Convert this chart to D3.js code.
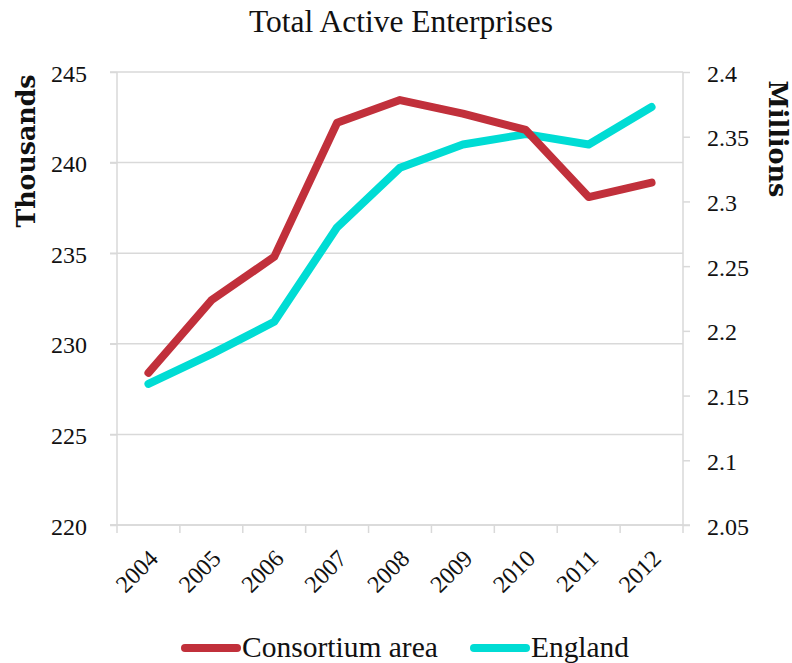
<!DOCTYPE html>
<html>
<head>
<meta charset="utf-8">
<script src="https://cdn.jsdelivr.net/npm/d3@7"></script>
<style>
  body { margin: 0; background: #fff; }
  svg { display: block; font-family: "Liberation Serif", "DejaVu Serif", serif; }
</style>
</head>
<body>
<svg id="chart" width="792" height="663"></svg>
<script>
// Years on the category axis
const years = ["2004", "2005", "2006", "2007", "2008", "2009", "2010", "2011", "2012"];
// Consortium area, active enterprises (thousands, left axis)
const consortium = [228.4, 232.4, 234.8, 242.2, 243.45, 242.7, 241.8, 238.1, 238.9];
// England, active enterprises (millions, right axis)
const england = [2.159, 2.182, 2.207, 2.280, 2.326, 2.344, 2.352, 2.344, 2.373];
// Axis tick values
const leftTicks = [220, 225, 230, 235, 240, 245];
const rightTicks = [2.05, 2.1, 2.15, 2.2, 2.25, 2.3, 2.35, 2.4];

const svg = d3.select("#chart");
const plot = { left: 117, right: 683, top: 72, bottom: 525 };
const gridColor = "#d9d9d9";
const red = "#c1303b";
const cyan = "#00dcd4";
const ink = "#111";
const font = "Liberation Serif, serif";
const boldFont = "DejaVu Serif, serif";

// Scale a text's font size so that it spans the given width
function fitWidth(sel, width) {
  const node = sel.node();
  const base = parseFloat(sel.attr("font-size"));
  const len = node.getComputedTextLength();
  const size = base * width / len;
  sel.attr("font-size", size);
  return size;
}

const x = d3.scaleBand().domain(years).range([plot.left, plot.right]);
const yL = d3.scaleLinear().domain([220, 245]).range([plot.bottom, plot.top]);
const yR = d3.scaleLinear().domain([2.05, 2.4]).range([plot.bottom, plot.top]);

// Title
const title = svg.append("text")
  .attr("x", 401).attr("y", 32)
  .attr("text-anchor", "middle")
  .attr("font-size", 28)
  .attr("fill", ink)
  .text("Total Active Enterprises");
fitWidth(title, 304);

// Horizontal gridlines from left-axis ticks
svg.append("g").selectAll("line").data(leftTicks).join("line")
  .attr("x1", plot.left - 7).attr("x2", plot.right)
  .attr("y1", d => yL(d)).attr("y2", d => yL(d))
  .attr("stroke", gridColor).attr("stroke-width", 1.5);

// Tick label size, sized from a sample label
const probe = svg.append("text").attr("font-size", 22).text("245");
const tickSize = fitWidth(probe, 36);
probe.remove();

// Left axis
const gL = svg.append("g").attr("transform", `translate(${plot.left},0)`)
  .call(d3.axisLeft(yL).tickValues(leftTicks).tickSize(7).tickPadding(23).tickFormat(d3.format("d")));
// Right axis
const gR = svg.append("g").attr("transform", `translate(${plot.right},0)`)
  .call(d3.axisRight(yR).tickValues(rightTicks).tickSize(7).tickPadding(17).tickFormat(d => String(+d.toFixed(2))));
// Bottom axis with ticks at band boundaries
const gB = svg.append("g").attr("transform", `translate(0,${plot.bottom})`)
  .call(d3.axisBottom(x).tickSize(0).tickPadding(0));

[gL, gR, gB].forEach(g => {
  g.select(".domain").attr("stroke", gridColor).attr("stroke-width", 1.5);
  g.selectAll(".tick line").attr("stroke", gridColor).attr("stroke-width", 1.5);
  g.selectAll("text").attr("font-family", font).attr("font-size", tickSize).attr("fill", ink);
});
gL.select(".domain").attr("d", `M0,${plot.top}V${plot.bottom}`);
gR.select(".domain").attr("d", `M0,${plot.top}V${plot.bottom}`);
gB.select(".domain").attr("d", `M${plot.left - 7},0H${plot.right + 7}`);
gR.selectAll("text").attr("text-anchor", "start");
gL.selectAll(".tick text").attr("dy", "0.38em");
gR.selectAll(".tick text").attr("dy", "0.38em");

// Category boundary ticks
const bounds = years.map(y => x(y)).concat([plot.right]);
gB.append("g").selectAll("line").data(bounds).join("line")
  .attr("x1", d => d).attr("x2", d => d).attr("y1", 0).attr("y2", 8)
  .attr("stroke", gridColor).attr("stroke-width", 1.5);

// Rotated year labels
gB.selectAll(".tick text")
  .attr("text-anchor", "end")
  .attr("dy", 0)
  .attr("transform", "translate(11,35) rotate(-45)");

// Axis titles
const tL = svg.append("text")
  .attr("transform", "translate(35,151) rotate(-90)")
  .attr("text-anchor", "middle")
  .attr("font-family", boldFont)
  .attr("font-size", 22).attr("font-weight", "bold").attr("fill", ink)
  .text("Thousands");
fitWidth(tL, 153);
const tR = svg.append("text")
  .attr("transform", "translate(769,139) rotate(90)")
  .attr("text-anchor", "middle")
  .attr("font-family", boldFont)
  .attr("font-size", 22).attr("font-weight", "bold").attr("fill", ink)
  .text("Millions");
fitWidth(tR, 117);

// Series lines
const cx = d => x(d) + x.bandwidth() / 2;
const lineL = d3.line().x((d, i) => cx(years[i])).y(d => yL(d));
const lineR = d3.line().x((d, i) => cx(years[i])).y(d => yR(d));

svg.append("path").datum(england)
  .attr("d", lineR).attr("fill", "none").attr("stroke", cyan)
  .attr("stroke-width", 8).attr("stroke-linecap", "round").attr("stroke-linejoin", "round");
svg.append("path").datum(consortium)
  .attr("d", lineL).attr("fill", "none").attr("stroke", red)
  .attr("stroke-width", 8).attr("stroke-linecap", "round").attr("stroke-linejoin", "round");

// Legend
const legend = [
  { name: "Consortium area", color: red, x: 185, w: 196 },
  { name: "England", color: cyan, x: 474, w: 98 }
];
const lg = svg.append("g").selectAll("g").data(legend).join("g")
  .attr("transform", d => `translate(${d.x},648)`);
lg.append("line").attr("x1", 0).attr("x2", 52).attr("y1", 0).attr("y2", 0)
  .attr("stroke", d => d.color).attr("stroke-width", 8).attr("stroke-linecap", "round");
lg.append("text").attr("x", 57).attr("y", 9)
  .attr("font-size", 26).attr("fill", ink)
  .text(d => d.name)
  .each(function (d) { fitWidth(d3.select(this), d.w); });
</script>
</body>
</html>
